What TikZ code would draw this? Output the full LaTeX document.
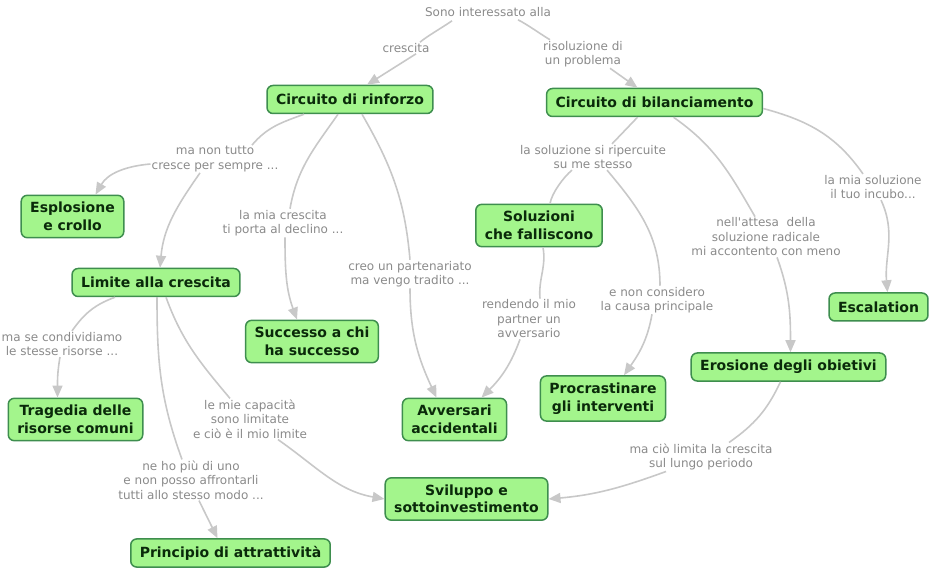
\documentclass[tikz,border=0pt]{standalone}
\usepackage{fontspec}
\setmainfont{DejaVu Sans}
\usetikzlibrary{arrows.meta}
\definecolor{conceptfill}{HTML}{A3F58C}
\definecolor{conceptdraw}{HTML}{3E8E4E}
\definecolor{concepttext}{HTML}{0A2A0A}
\definecolor{phrasetext}{HTML}{8A8A8A}
\definecolor{linegray}{HTML}{C8C8C8}

\begin{document}
\begin{tikzpicture}[x=1pt,y=1pt,
  concept/.style={draw=conceptdraw, fill=conceptfill, line width=1.5pt, rounded corners=6pt,
    text=concepttext, font=\fontsize{14}{17.5}\selectfont\bfseries, align=center,
    inner xsep=9pt, inner ysep=7pt, minimum height=28pt},
  phrase/.style={text=phrasetext, font=\fontsize{12}{14.5}\selectfont, align=center, inner sep=1pt},
  conn/.style={draw=linegray, line width=1.6pt},
  arr/.style={conn, -{Triangle[length=12pt,width=10pt]}}]
  \useasboundingbox (0,0) rectangle (930,-572);

  \node[phrase] (sono) at (488,-12) {Sono interessato alla};
  \node[phrase] (cresc) at (406,-48) {crescita};
  \node[phrase] (risol) at (583,-54) {risoluzione di\\un problema};
  \node[concept] (rinforzo) at (350,-99.5) {Circuito di rinforzo};
  \node[concept] (bilanc) at (654.5,-102.5) {Circuito di bilanciamento};
  \node[phrase] (manon) at (215,-159) {ma non tutto\\cresce per sempre ...};
  \node[concept] (esplos) at (72.5,-216.5) {Esplosione\\e crollo};
  \node[concept] (limite) at (156,-282.5) {Limite alla crescita};
  \node[phrase] (miacr) at (283,-223) {la mia crescita\\ti porta al declino ...};
  \node[phrase] (creo) at (410,-274) {creo un partenariato\\ma vengo tradito ...};
  \node[concept] (successo) at (312,-341.5) {Successo a chi\\ha successo};
  \node[phrase] (riperc) at (593,-157) {la soluzione si ripercuite\\su me stesso};
  \node[concept] (soluz) at (539,-225.5) {Soluzioni\\che falliscono};
  \node[phrase] (incubo) at (873,-187) {la mia soluzione\\il tuo incubo...};
  \node[phrase] (attesa) at (766,-237) {nell\textquotesingle attesa\ \ della\\soluzione radicale\\mi accontento con meno};
  \node[concept] (escal) at (878.5,-307) {Escalation};
  \node[phrase] (rendendo) at (529,-319) {rendendo il mio\\partner un\\avversario};
  \node[phrase] (noncons) at (657,-300) {e non considero\\la causa principale};
  \node[concept] (erosione) at (788.5,-367) {Erosione degli obietivi};
  \node[concept] (procr) at (603,-398.5) {Procrastinare\\gli interventi};
  \node[concept] (avvers) at (454.5,-419.5) {Avversari\\accidentali};
  \node[phrase] (condiv) at (62,-344) {ma se condividiamo\\le stesse risorse ...};
  \node[concept] (tragedia) at (75.5,-419.5) {Tragedia delle\\risorse comuni};
  \node[phrase] (capac) at (250,-419) {le mie capacità\\sono limitate\\e ciò è il mio limite};
  \node[phrase] (piuuno) at (191,-480) {ne ho più di uno\\e non posso affrontarli\\tutti allo stesso modo ...};
  \node[concept] (principio) at (230.5,-553) {Principio di attrattività};
  \node[concept] (sviluppo) at (466.5,-499) {Sviluppo e\\sottoinvestimento};
  \node[phrase] (limita) at (701,-457) {ma ciò limita la crescita\\sul lungo periodo};

  % in alto
  \draw[conn] ([xshift=-36pt,yshift=-3pt]sono.south) to[out=215,in=40,looseness=0.6] ([xshift=14pt]cresc.north);
  \draw[arr] ([xshift=10pt]cresc.south) -- ([xshift=17pt]rinforzo.north);
  \draw[conn] ([xshift=30pt,yshift=-2pt]sono.south) to[out=-25,in=150,looseness=0.6] ([xshift=-33pt]risol.north);
  \draw[arr] ([xshift=27pt]risol.south) -- ([xshift=-17pt]bilanc.north);

  % circuito di rinforzo
  \draw[conn] ([xshift=-46pt]rinforzo.south) to[out=200,in=50] ([xshift=37pt]manon.north);
  \draw[arr] ([yshift=-5pt]manon.west) to[out=185,in=60] ([xshift=23pt]esplos.north);
  \draw[arr] ([xshift=-15pt]manon.south) to[out=235,in=85] ([xshift=4pt]limite.north);
  \draw[conn] ([xshift=-12pt]rinforzo.south) to[out=235,in=80] ([xshift=7pt]miacr.north);
  \draw[arr] ([xshift=2pt]miacr.south) to[out=-90,in=110] ([xshift=-15pt]successo.north);
  \draw[conn] ([xshift=12pt]rinforzo.south) to[out=-60,in=95] (creo.north);
  \draw[arr] (creo.south) to[out=-90,in=115] ([xshift=-18pt]avvers.north);

  % circuito di bilanciamento
  \draw[conn] ([xshift=-17pt]bilanc.south) -- ([xshift=19pt]riperc.north);
  \draw[conn] ([xshift=-21pt]riperc.south) to[out=220,in=80,looseness=0.7] ([xshift=11pt]soluz.north);
  \draw[conn] ([xshift=14pt]riperc.south) to[out=-50,in=90] ([xshift=3pt]noncons.north);
  \draw[arr] ([xshift=-5pt]noncons.south) to[out=-100,in=55] ([xshift=21pt]procr.north);
  \draw[conn] ([xshift=4pt]soluz.south) to[out=-80,in=95] ([xshift=11pt]rendendo.north);
  \draw[arr] ([xshift=-9pt]rendendo.south) to[out=-110,in=45] ([xshift=27pt]avvers.north);
  \draw[conn] ([xshift=19pt]bilanc.south) to[out=-35,in=120] ([xshift=-11pt]attesa.north);
  \draw[arr] ([xshift=11pt]attesa.south) to[out=-70,in=90] ([xshift=2pt]erosione.north);
  \draw[conn] ([yshift=-6pt]bilanc.east) to[out=-15,in=125] ([xshift=-10pt]incubo.north);
  \draw[arr] ([xshift=8pt]incubo.south) to[out=-65,in=95] ([xshift=9pt]escal.north);
  \draw[conn] ([xshift=-8pt]erosione.south) to[out=-115,in=35] ([xshift=28pt]limita.north);
  \draw[arr] ([xshift=-35pt]limita.south) to[out=200,in=5] (sviluppo.east);

  % limite alla crescita
  \draw[conn] ([xshift=-41pt]limite.south) to[out=200,in=55] ([xshift=10pt]condiv.north);
  \draw[arr] ([xshift=-2pt]condiv.south) to[out=-100,in=90] ([xshift=-18pt]tragedia.north);
  \draw[conn] ([xshift=10pt]limite.south) to[out=-70,in=130] ([xshift=-20pt]capac.north);
  \draw[arr] ([xshift=28pt]capac.south) to[out=-35,in=170] (sviluppo.west);
  \draw[conn] ([xshift=1pt]limite.south) to[out=-90,in=110] ([xshift=-9pt]piuuno.north);
  \draw[arr] ([xshift=8pt]piuuno.south) -- ([xshift=-13pt]principio.north);
\end{tikzpicture}
\end{document}
